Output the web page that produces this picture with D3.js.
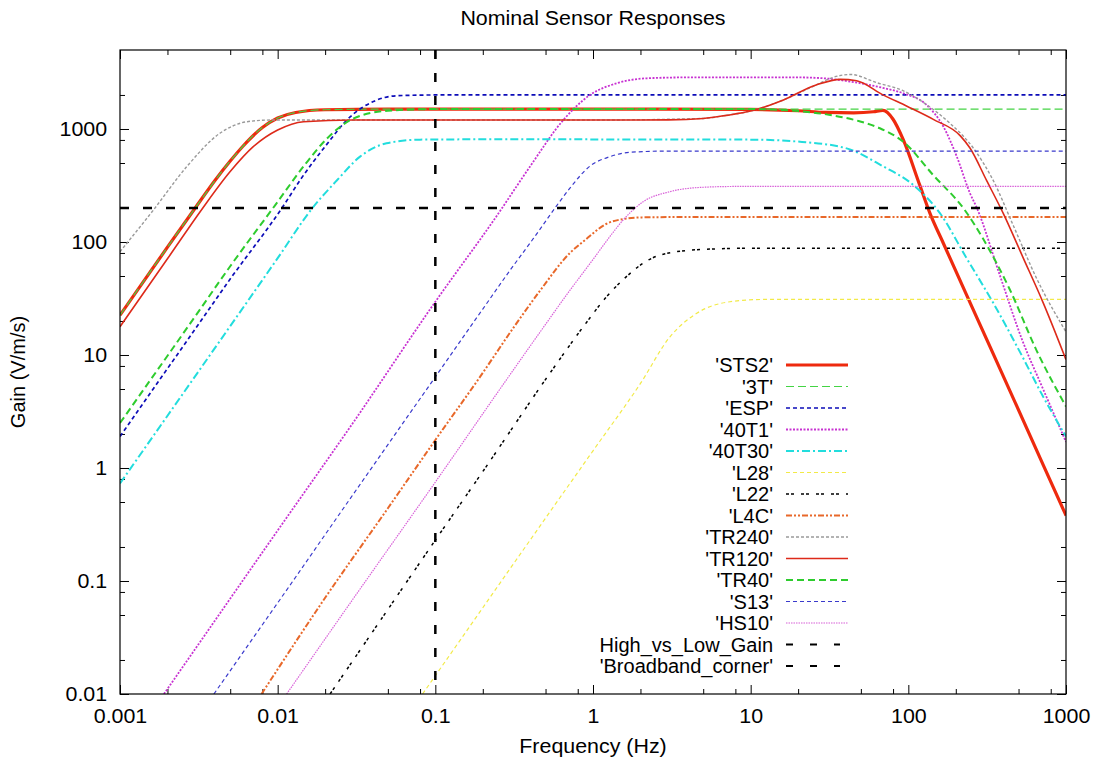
<!doctype html>
<html>
<head>
<title>Nominal Sensor Responses</title>
<style>
html, body { margin: 0; padding: 0; background: #fff; }
svg { display: block; }
text { font-family: "Liberation Sans", Arial, sans-serif; fill: #000; }
</style>
<script src="https://cdnjs.cloudflare.com/ajax/libs/d3/7.8.5/d3.min.js"></script>
</head>
<body>
<script>
// tick labels
var xTickLabels = ["0.001", "0.01", "0.1", "1", "10", "100", "1000"];
var yTickLabels = ["0.01", "0.1", "1", "10", "100", "1000"];

// sensor responses: [frequency (Hz), gain (V/m/s)]
var sts2 = [[0.001,22.5],[0.002,90],[0.003,200],[0.004,350],[0.005,520],[0.006,700],[0.008,1030],[0.01,1250],[0.013,1400],[0.02,1480],[0.05,1500],[1,1500],[10,1490],[20,1450],[30,1400],[45,1390],[60,1420],[69,1460],[80,1220],[93,800],[118,320],[137,180],[167,97],[234,34],[330,11.8],[490,3.47],[720,1.05],[1000,0.38]];
var t3 = [[0.001,22.5],[0.002,90],[0.003,200],[0.005,520],[0.008,1030],[0.01,1250],[0.013,1400],[0.02,1480],[0.05,1500],[1000,1500]];
var esp = [[0.001,1.9],[0.003,17],[0.005,47],[0.0109,210],[0.0139,354],[0.02,700],[0.0288,1280],[0.0404,1750],[0.057,1970],[0.1,2000],[1000,2000]];
var t40_1 = [[0.0019,0.01],[0.01,0.28],[0.03,2.5],[0.1,29.6],[0.245,170],[0.398,464],[0.648,1200],[0.957,2000],[1.41,2535],[2.19,2810],[4,2860],[20,2860],[30,2800],[43,2625],[70,2300],[93,2070],[130,1640],[167,1047],[203,569],[246,270],[272,200],[380,51],[526,13.7],[720,4.9],[1000,1.7]];
var t40_30 = [[0.001,0.73],[0.003,6.5],[0.005,18],[0.01,72],[0.0164,195],[0.0237,350],[0.0333,569],[0.049,747],[0.08,805],[0.2,810],[10,805],[19.6,775],[40.6,674],[69,468],[107,321],[159,179],[234,72],[346,28.8],[511,10.6],[718,4.25],[1000,1.9]];
var l28 = [[0.083,0.01],[0.2,0.058],[0.5,0.36],[1,1.42],[2,5.6],[3.08,14.5],[4.55,23.4],[7.4,29.6],[12,31],[1000,31]];
var l22 = [[0.0215,0.01],[0.05,0.056],[0.1,0.23],[0.2,0.93],[0.533,6.9],[0.868,17.8],[1.22,32.8],[1.72,52.8],[2.08,65],[2.79,78],[5,86],[10,88],[1000,88]];
var l4c = [[0.0079,0.01],[0.02,0.071],[0.05,0.44],[0.1,1.77],[0.192,6.4],[0.318,18],[0.461,37],[0.714,80],[0.89,104],[1.22,145],[1.62,161],[2,165],[3,166],[1000,166]];
var tr240 = [[0.001,82],[0.00163,192],[0.00265,464],[0.0043,916],[0.0064,1160],[0.009,1200],[1,1200],[5,1240],[7,1320],[10,1440],[16,1800],[26,2450],[33,2850],[43,3035],[63,2570],[93,2177],[130,1650],[184,1120],[258,679],[346,349],[463,140],[652,47.4],[1000,16]];
var tr120 = [[0.001,17.8],[0.002,71],[0.0033,194],[0.005,420],[0.007,697],[0.01,979],[0.0146,1160],[0.03,1200],[1,1200],[3,1205],[5,1240],[7,1320],[10,1440],[16,1800],[26,2450],[37,2750],[47,2670],[69,2005],[98,1590],[144,1216],[213,873],[246,679],[314,349],[400,179],[536,72],[718,28.8],[1000,9.1]];
var tr40 = [[0.001,2.5],[0.003,22],[0.005,61],[0.0096,210],[0.015,490],[0.0205,820],[0.03,1230],[0.05,1450],[0.1,1500],[10,1500],[20,1440],[32,1330],[49,1170],[66,1015],[93,770],[144,390],[229,190],[300,105],[440,38],[650,11],[1000,3.5]];
var s13 = [[0.00394,0.01],[0.01,0.064],[0.03,0.58],[0.1,6.4],[0.2,25.5],[0.3,57],[0.42,108],[0.589,210],[0.714,300],[0.957,470],[1.28,569],[1.72,622],[3,638],[1000,638]];
var hs10 = [[0.0114,0.01],[0.03,0.069],[0.1,0.75],[0.3,6.8],[0.471,16.6],[0.7,36],[1.0,70],[1.3,115],[1.556,157],[2.08,227],[3.08,279],[5,305],[8,310],[1000,310]];

// reference lines
var highVsLowGain = 200;   // V/m/s
var broadbandCorner = 0.1; // Hz

var seriesNames = ["STS2", "3T", "ESP", "40T1", "40T30", "L28", "L22", "L4C", "TR240", "TR120", "TR40", "S13", "HS10"];
var seriesData = [sts2, t3, esp, t40_1, t40_30, l28, l22, l4c, tr240, tr120, tr40, s13, hs10];

var styles = {
    "STS2":  { color: "#ee2a0e", width: 3.2, dash: null },
    "3T":    { color: "#44d444", width: 1.2, dash: "8,4" },
    "ESP":   { color: "#0c0cb8", width: 1.7, dash: "4,3" },
    "40T1":  { color: "#c832d2", width: 1.8, dash: "2,1.5" },
    "40T30": { color: "#22dddd", width: 2, dash: "8,3,2,3" },
    "L28":   { color: "#f2ea48", width: 1.2, dash: "4,3" },
    "L22":   { color: "#000000", width: 1.5, dash: "3,2,3,7" },
    "L4C":   { color: "#e8682a", width: 2, dash: "6,2,2,2,2,2" },
    "TR240": { color: "#9a9a9a", width: 1.4, dash: "3,2" },
    "TR120": { color: "#dd2a1a", width: 1.6, dash: null },
    "TR40":  { color: "#2ecc2e", width: 2, dash: "7,4" },
    "S13":   { color: "#3a3acc", width: 1.2, dash: "4,3" },
    "HS10":  { color: "#d860d8", width: 1.2, dash: "1.5,1" },
    "ref":   { color: "#000000", width: 2.5, dash: "9,14" }
};

var width = 1096, height = 761;
var plotL = 120, plotR = 1066, plotT = 50, plotB = 694;
var stretch = "scale(1.07,1)";

var svg = d3.select("body").append("svg")
    .attr("width", width)
    .attr("height", height);

var x = d3.scaleLog().domain([0.001, 1000]).range([plotL, plotR]);
var y = d3.scaleLog().domain([0.01, 5000]).range([plotB, plotT]);

svg.append("defs").append("clipPath").attr("id", "plotclip")
    .append("rect")
    .attr("x", plotL).attr("y", plotT)
    .attr("width", plotR - plotL).attr("height", plotB - plotT);

// minor ticks at 2, 5, 8 of each decade
var xMinor = [], yMinor = [];
[0.001, 0.01, 0.1, 1, 10, 100].forEach(function (d) {
    [2, 5, 8].forEach(function (m) { xMinor.push(d * m); });
});
[0.01, 0.1, 1, 10, 100, 1000].forEach(function (d) {
    [2, 5, 8].forEach(function (m) { if (d * m < 5000) yMinor.push(d * m); });
});
var xMajor = xTickLabels.map(Number);
var yMajor = yTickLabels.map(Number);

function styleAxis(g) {
    g.select(".domain").remove();
    g.selectAll("line").attr("stroke", "#000").attr("stroke-width", 1);
    g.attr("font-size", 20).attr("font-family", "'Liberation Sans', Arial, sans-serif");
    g.selectAll("text").attr("transform", stretch);
}

svg.append("g").attr("transform", "translate(0," + plotB + ")")
    .call(d3.axisBottom(x).tickValues(xMajor).tickFormat(function (d, i) { return xTickLabels[i]; })
        .tickSize(-9).tickPadding(15))
    .call(styleAxis);
svg.append("g").attr("transform", "translate(0," + plotB + ")")
    .call(d3.axisBottom(x).tickValues(xMinor).tickFormat("").tickSize(-5))
    .call(styleAxis);
svg.append("g").attr("transform", "translate(0," + plotT + ")")
    .call(d3.axisTop(x).tickValues(xMajor).tickFormat("").tickSize(-9))
    .call(styleAxis);
svg.append("g").attr("transform", "translate(0," + plotT + ")")
    .call(d3.axisTop(x).tickValues(xMinor).tickFormat("").tickSize(-5))
    .call(styleAxis);

svg.append("g").attr("transform", "translate(" + plotL + ",0)")
    .call(d3.axisLeft(y).tickValues(yMajor).tickFormat(function (d, i) { return yTickLabels[i]; })
        .tickSize(-9).tickPadding(12))
    .call(styleAxis);
svg.append("g").attr("transform", "translate(" + plotL + ",0)")
    .call(d3.axisLeft(y).tickValues(yMinor).tickFormat("").tickSize(-5))
    .call(styleAxis);
svg.append("g").attr("transform", "translate(" + plotR + ",0)")
    .call(d3.axisRight(y).tickValues(yMajor).tickFormat("").tickSize(-9))
    .call(styleAxis);
svg.append("g").attr("transform", "translate(" + plotR + ",0)")
    .call(d3.axisRight(y).tickValues(yMinor).tickFormat("").tickSize(-5))
    .call(styleAxis);

var line = d3.line()
    .x(function (d) { return x(d[0]); })
    .y(function (d) { return y(d[1]); })
    .curve(d3.curveMonotoneX);

var plot = svg.append("g").attr("clip-path", "url(#plotclip)");

seriesNames.forEach(function (name, i) {
    var s = styles[name];
    plot.append("path")
        .datum(seriesData[i])
        .attr("d", line)
        .attr("fill", "none")
        .attr("stroke", s.color)
        .attr("stroke-width", s.width)
        .attr("stroke-dasharray", s.dash)
        .attr("stroke-linejoin", "round");
});

// High_vs_Low_Gain and Broadband_corner
var ref = styles["ref"];
plot.append("line")
    .attr("x1", plotL).attr("x2", plotR)
    .attr("y1", y(highVsLowGain)).attr("y2", y(highVsLowGain))
    .attr("stroke", ref.color).attr("stroke-width", ref.width).attr("stroke-dasharray", ref.dash);
plot.append("line")
    .attr("x1", x(broadbandCorner)).attr("x2", x(broadbandCorner))
    .attr("y1", plotT).attr("y2", plotB)
    .attr("stroke", ref.color).attr("stroke-width", ref.width).attr("stroke-dasharray", ref.dash);

svg.append("rect")
    .attr("x", plotL).attr("y", plotT)
    .attr("width", plotR - plotL).attr("height", plotB - plotT)
    .attr("fill", "none").attr("stroke", "#000").attr("stroke-width", 1.2);

// legend
var legendLabels = seriesNames.map(function (n) { return "'" + n + "'"; })
    .concat(["High_vs_Low_Gain", "'Broadband_corner'"]);
var legendStyles = seriesNames.map(function (n) { return styles[n]; }).concat([ref, ref]);

var legend = svg.append("g");
legendLabels.forEach(function (lab, i) {
    var ly = 365 + i * 21.5;
    var s = legendStyles[i];
    legend.append("text")
        .attr("x", 773).attr("y", ly)
        .attr("dy", "0.35em")
        .attr("text-anchor", "end")
        .attr("font-size", 20)
        .text(lab);
    legend.append("line")
        .attr("x1", 786).attr("x2", s === ref ? 840 : 848)
        .attr("y1", ly).attr("y2", ly)
        .attr("stroke", s.color)
        .attr("stroke-width", s === ref ? 2 : s.width)
        .attr("stroke-dasharray", s === ref ? "7,17" : s.dash);
});

svg.append("text")
    .attr("transform", "translate(" + (plotL + plotR) / 2 + ",25) " + stretch)
    .attr("text-anchor", "middle")
    .attr("font-size", 20)
    .text("Nominal Sensor Responses");

svg.append("text")
    .attr("transform", "translate(" + (plotL + plotR) / 2 + ",753) " + stretch)
    .attr("text-anchor", "middle")
    .attr("font-size", 20)
    .text("Frequency (Hz)");

svg.append("text")
    .attr("transform", "translate(25," + (plotT + plotB) / 2 + ") rotate(-90)")
    .attr("text-anchor", "middle")
    .attr("font-size", 20)
    .text("Gain (V/m/s)");
</script>
</body>
</html>
